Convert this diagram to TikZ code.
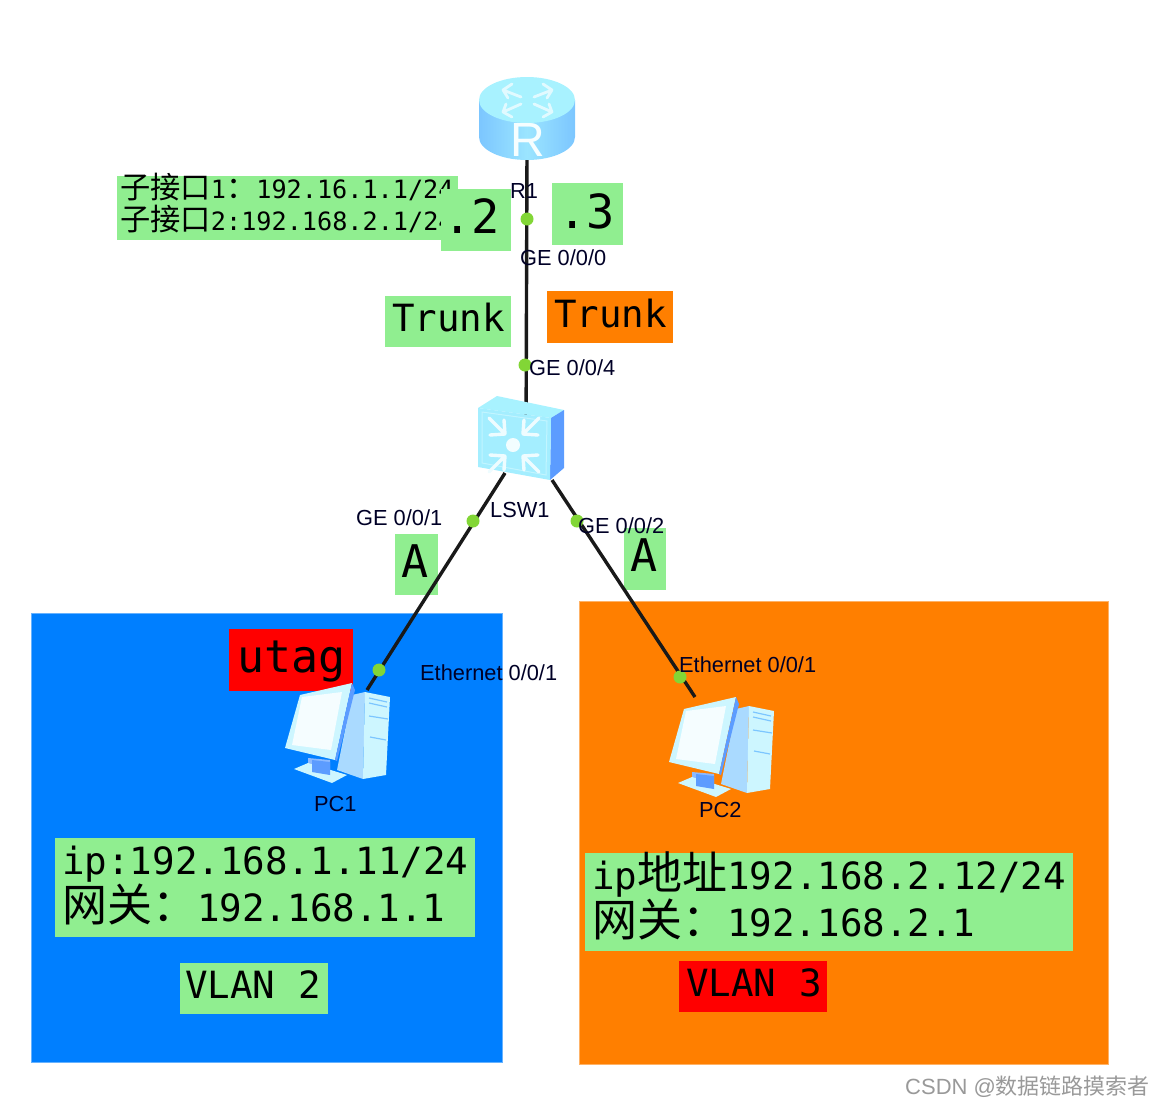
\documentclass[tikz,border=0pt]{standalone}
\usepackage{fontspec}
\setmainfont{Liberation Sans}
\newfontfamily\cjk[Scale=1.2]{Noto Sans CJK SC}
\newfontfamily\cjkplain{Noto Sans CJK SC}
\newfontfamily\monof{DejaVu Sans Mono}
\newcommand{\mt}[1]{\fontsize{#1}{#1}\selectfont\monof}
\definecolor{lgreen}{HTML}{90EE90}
\definecolor{zblue}{HTML}{007FFF}
\definecolor{zorange}{HTML}{FF7F00}
\definecolor{dotgreen}{HTML}{82D636}
\definecolor{ikonA}{HTML}{A8F2FF}
\definecolor{ikonB}{HTML}{7CC6FF}
\definecolor{ikonC}{HTML}{5C9CFF}
\definecolor{ikonD}{HTML}{CDF6FF}
\tikzset{
  area/.style={line width=1pt},
  tag/.style={anchor=base west,inner sep=0pt,text=black},
  lbl/.style={anchor=base west,inner sep=0pt,font=\fontsize{21.8}{21.8}\selectfont,text=black!85!blue},
  wire/.style={line width=3.4pt,black!90},
  port/.style={circle,fill=dotgreen,inner sep=0pt,minimum size=13pt},
  arw/.style={line width=3.4pt,white!80!ikonA,line cap=round,line join=round}
}
\newcommand{\pcicon}[2]{%
  \begin{scope}[shift={(#1,#2)}]
    \fill[ikonB!65!white] (352,695)--(365,692)--(363,779)--(337,770)--cycle;
    \fill[ikonD] (365,692)--(390,697)--(386,775)--(363,779)--cycle;
    \draw[ikonB,line width=1.2pt] (369,698)--(387,702) (369,703)--(387,707) (369,716)--(388,719) (370,737)--(386,740);
    \fill[ikonC!70!white] (308,758)--(330,760)--(330,773)--(308,770)--cycle;
    \fill[ikonD] (294,769)--(308,763)--(347,775)--(332,783)--cycle;
    \fill[ikonC] (312,760)--(330,762)--(330,775)--(312,772)--cycle;
    \fill[ikonD] (300,695)--(352,683)--(335,760)--(285,748)--cycle;
    \fill[ikonC] (352,683)--(355,690)--(337,761)--(335,760)--cycle;
    \fill[white!88!ikonA] (302,697)--(342,692)--(331,750)--(292,745)--cycle;
  \end{scope}}
\begin{document}
\begin{tikzpicture}[x=1pt,y=-1pt]
\useasboundingbox (0,0) rectangle (1152,1106);
% areas
\fill[zblue] (31,613) rectangle (502,1062);
\draw[area,zblue!60!white] (31,613) rectangle (502,1062);
\fill[zorange] (579,601) rectangle (1108,1064);
\draw[area,zorange!60!white] (579,601) rectangle (1108,1064);
% label boxes
\fill[lgreen] (117,176) rectangle (458,240);
\node[tag] (sub1) at (120,198) {\mt{25.2}{\cjk 子接口}1{\cjk ：}192.16.1.1/24};
\node[tag] (sub2) at (120,230) {\mt{25.2}{\cjk 子接口}2:192.168.2.1/24};
\fill[lgreen] (450,176) rectangle (458,189);
\fill[lgreen] (441,189) rectangle (511,251);
\node[tag] (dot2) at (443,233) {\mt{47}.2};
\fill[lgreen] (552,183) rectangle (623,245);
\node[tag] (dot3) at (558,228) {\mt{47}.3};
\fill[lgreen] (385,296) rectangle (511,347);
\node[tag] (trunkA) at (392,331) {\mt{37.5}Trunk};
\fill[zorange] (547,291) rectangle (673,343);
\node[tag] (trunkB) at (554,327) {\mt{37.5}Trunk};
\fill[lgreen] (395,534) rectangle (438,595);
\node[tag] (accA) at (401,577) {\mt{45}A};
\fill[lgreen] (624,528) rectangle (666,590);
\node[tag] (accB) at (630,571) {\mt{45}A};
\fill[red] (229,629) rectangle (353,691);
\node[tag] (utag) at (237,672) {\mt{45}utag};
\fill[lgreen] (55,838) rectangle (475,937);
\node[tag] (ipA) at (62,874) {\mt{37.5}ip:192.168.1.11/24};
\node[tag] (gwA) at (62,921) {\mt{37.5}{\cjk 网关：}192.168.1.1};
\fill[lgreen] (180,963) rectangle (328,1014);
\node[tag] (vlanA) at (185,998) {\mt{37.5}VLAN 2};
\fill[lgreen] (585,853) rectangle (1073,951);
\node[tag] (ipB) at (592,889) {\mt{37.5}ip{\cjk 地址}192.168.2.12/24};
\node[tag] (gwB) at (592,936) {\mt{37.5}{\cjk 网关：}192.168.2.1};
\fill[red] (679,961) rectangle (827,1012);
\node[tag] (vlanB) at (686,996) {\mt{37.5}VLAN 3};
% anchors of the devices
\coordinate (r1) at (527,150);
\coordinate (lsw) at (526,445);
\coordinate (pc1) at (367,690);
\coordinate (pc2) at (695,697);
\coordinate (lswL) at (505,473);
\coordinate (lswR) at (552,480);
% links
\draw[wire] (r1) -- (lsw);
\draw[wire] (lswL) -- (pc1);
\draw[wire] (lswR) -- (pc2);
% ports
\node[port] (p0) at (527,219) {};
\node[port] (p4) at (525,365) {};
\node[port] (p1) at (473,521) {};
\node[port] (p2) at (577,521) {};
\node[port] (e1) at (379,670) {};
\node[port] (e2) at (680,677) {};
% router
\path[left color=ikonB,right color=ikonB,middle color=ikonA!70!ikonB]
  (479,100) -- (479,137) arc[start angle=180,end angle=0,x radius=48,y radius=23] -- (575,100) -- cycle;
\fill[ikonA] (527,100) ellipse[x radius=48,y radius=23];
\draw[arw,line width=2.8pt,white!65!ikonA] (503,90)--(521,97) (503,90)--(512,84) (503,90)--(508,98)
  (552,90)--(534,97) (552,90)--(543,84) (552,90)--(547,98)
  (503,112)--(521,104) (503,112)--(512,117) (503,112)--(506,104)
  (552,112)--(534,104) (552,112)--(543,117) (552,112)--(549,104);
\node[inner sep=0pt,text=white!90!ikonA,font=\fontsize{48}{48}\selectfont] (rglyph) at (528,140) {R};
% switch
\fill[ikonA] (478,408)--(497,396)--(564,410)--(551,418)--cycle;
\fill[ikonC] (551,418)--(564,410)--(564,468)--(550,480)--cycle;
\fill[ikonA!90!ikonB] (478,408)--(551,418)--(550,480)--(478,467)--cycle;
\draw[ikonD!70!ikonA,line width=1pt] (482,412)--(547,421)--(546,475)--(482,463)--cycle;
\fill[white!85!ikonA] (513,445) circle (7);
\foreach \sx/\sy in {1/1,-1/1,1/-1,-1/-1}{
  \begin{scope}[shift={(514,445)},xscale=\sx,yscale=\sy]
    \draw[arw] (-25,-27)--(-9,-11) (-9,-11)--(-10,-25) (-9,-11)--(-24,-10);
  \end{scope}}
% PCs
\pcicon{0}{0}
\pcicon{384}{14}
% device and port labels
\node[lbl] (lr1) at (510,198) {R1};
\node[lbl] (lg0) at (520,265) {GE 0/0/0};
\node[lbl] (lg4) at (529,375) {GE 0/0/4};
\node[lbl] (lsw1) at (490,517) {LSW1};
\node[lbl] (lg1) at (356,525) {GE 0/0/1};
\node[lbl] (lg2) at (578,533) {GE 0/0/2};
\node[lbl] (le1) at (420,680) {Ethernet 0/0/1};
\node[lbl] (le2) at (679,672) {Ethernet 0/0/1};
\node[lbl] (lpc1) at (314,811) {PC1};
\node[lbl] (lpc2) at (699,817) {PC2};
\node[anchor=base west,inner sep=0pt,text=black!40,font=\fontsize{22}{22}\selectfont] (wm) at (905,1094) {CSDN @{\cjkplain 数据链路摸索者}};
\end{tikzpicture}
\end{document}
